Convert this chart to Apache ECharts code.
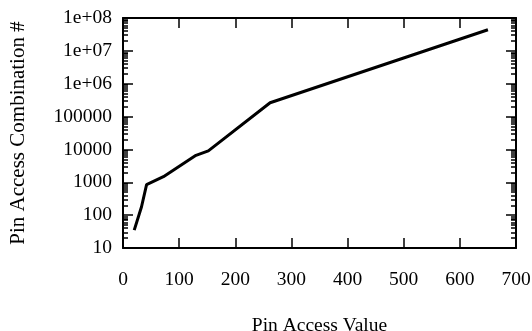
<!DOCTYPE html>
<html>
<head>
<meta charset="utf-8">
<script src="https://cdn.jsdelivr.net/npm/echarts@6/dist/echarts.min.js"></script>
<style>html,body{margin:0;padding:0;background:#fff}#c{width:532px;height:331px}</style>
</head>
<body>
<div id="c"></div>
<script>
const pinAccessValue = [20, 33, 42, 72, 130, 152, 262, 650];
const combinationCount = [35, 180, 850, 1480, 6600, 9000, 263000, 44000000];
const xTicks = [0, 100, 200, 300, 400, 500, 600, 700];
const yMajorTicks = [10, 100, 1000, 10000, 100000, 1000000, 10000000, 100000000];
const yMinorTicks = [];
for (let d = 10; d < 1e8; d *= 10) for (let m = 2; m <= 9; m++) yMinorTicks.push(d * m);

const FONT = '"Liberation Serif", "DejaVu Serif", serif';
const ink = '#000';
function yFmt(v) {
  if (v >= 1e6) return '1e+0' + Math.round(Math.log10(v));
  return String(Math.round(v));
}
const chart = echarts.init(document.getElementById('c'), null, {renderer: 'canvas'});
const base = {min: 10, max: 1e8, type: 'log', logBase: 10, splitLine: {show: false}};
chart.setOption({
  animation: false,
  grid: {left: 123, right: 16, top: 18, bottom: 83, containLabel: false, outerBoundsMode: 'none'},
  xAxis: [
    {type: 'value', min: 0, max: 700, interval: 100, position: 'bottom',
     name: 'Pin Access Value', nameLocation: 'middle', nameGap: 68,
     nameTextStyle: {fontFamily: FONT, fontSize: 19.5, color: ink},
     axisLine: {lineStyle: {color: ink, width: 2}},
     axisTick: {inside: true, length: 10, lineStyle: {color: ink, width: 1.5}, customValues: xTicks.slice(1, -1)},
     axisLabel: {fontFamily: FONT, fontSize: 19.5, color: ink, margin: 22, customValues: xTicks},
     splitLine: {show: false}},
    {type: 'value', min: 0, max: 700, interval: 100, position: 'top',
     axisLine: {lineStyle: {color: ink, width: 2}},
     axisTick: {inside: true, length: 10, lineStyle: {color: ink, width: 1.5}, customValues: xTicks.slice(1, -1)},
     axisLabel: {show: false}, splitLine: {show: false}}
  ],
  yAxis: [
    Object.assign({}, base, {position: 'left',
     name: 'Pin Access Combination #', nameLocation: 'middle', nameGap: 94, nameRotate: 90,
     nameTextStyle: {fontFamily: FONT, fontSize: 21, color: ink},
     axisLine: {lineStyle: {color: ink, width: 2}},
     axisTick: {inside: true, length: 10, lineStyle: {color: ink, width: 1.5}, customValues: yMajorTicks},
     axisLabel: {fontFamily: FONT, fontSize: 19.5, color: ink, margin: 11, customValues: yMajorTicks, formatter: yFmt}}),
    Object.assign({}, base, {position: 'left',
     axisLine: {show: false},
     axisTick: {inside: true, length: 5, lineStyle: {color: ink, width: 1.5}, customValues: yMinorTicks},
     axisLabel: {show: false}}),
    Object.assign({}, base, {position: 'right',
     axisLine: {lineStyle: {color: ink, width: 2}},
     axisTick: {inside: true, length: 10, lineStyle: {color: ink, width: 1.5}, customValues: yMajorTicks},
     axisLabel: {show: false}}),
    Object.assign({}, base, {position: 'right',
     axisLine: {show: false},
     axisTick: {inside: true, length: 5, lineStyle: {color: ink, width: 1.5}, customValues: yMinorTicks},
     axisLabel: {show: false}})
  ],
  series: [{
    type: 'line', xAxisIndex: 0, yAxisIndex: 0,
    data: pinAccessValue.map((x, i) => [x, combinationCount[i]]),
    showSymbol: false, symbol: 'none',
    lineStyle: {color: ink, width: 3}
  }]
});
</script>
</body>
</html>
